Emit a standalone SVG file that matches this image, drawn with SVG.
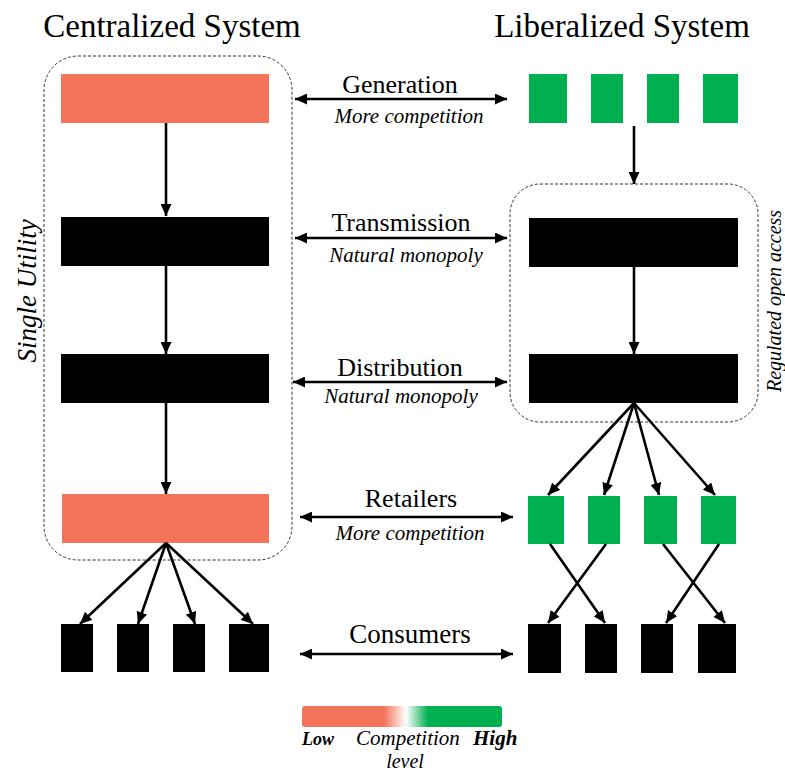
<svg xmlns="http://www.w3.org/2000/svg" width="785" height="782" viewBox="0 0 785 782">
  <defs>
    <marker id="arrow" markerUnits="userSpaceOnUse" markerWidth="13" markerHeight="11" refX="12" refY="5.5" orient="auto-start-reverse" viewBox="0 0 13 11">
      <path d="M0,0 L12,5.5 L0,11 z" fill="#000"/>
    </marker>
    <linearGradient id="scale" x1="0" y1="0" x2="1" y2="0">
      <stop offset="0" stop-color="#F3735B"/>
      <stop offset="0.41" stop-color="#F3735B"/>
      <stop offset="0.52" stop-color="#FFFFFF"/>
      <stop offset="0.63" stop-color="#00B050"/>
      <stop offset="1" stop-color="#00B050"/>
    </linearGradient>
  </defs>

  <rect width="785" height="782" fill="#fff"/>

  <!-- column headings -->
  <text font-family="Liberation Serif" font-size="33" x="172" y="37" text-anchor="middle">Centralized System</text>
  <text font-family="Liberation Serif" font-size="33" x="622" y="37" text-anchor="middle">Liberalized System</text>

  <!-- dashed groupings -->
  <g id="single-utility">
    <rect x="44" y="56" width="248" height="504" rx="34" ry="34" fill="none" stroke="#333" stroke-width="1" stroke-dasharray="3 2"/>
    <text font-family="Liberation Serif" font-style="italic" font-size="27" transform="translate(36,291) rotate(-90)" text-anchor="middle">Single Utility</text>
  </g>
  <g id="regulated-open-access">
    <rect x="510" y="184" width="248" height="238" rx="30" ry="30" fill="none" stroke="#333" stroke-width="1" stroke-dasharray="3 2"/>
    <text font-family="Liberation Serif" font-style="italic" font-size="20" transform="translate(781,301) rotate(-90)" text-anchor="middle">Regulated open access</text>
  </g>

  <!-- centralized column -->
  <g id="c-generation" fill="#F3735B"><rect x="61" y="74" width="208" height="49"/></g>
  <g id="c-transmission" fill="#000"><rect x="61" y="217" width="208" height="49"/></g>
  <g id="c-distribution" fill="#000"><rect x="61" y="354" width="208" height="49"/></g>
  <g id="c-retailer" fill="#F3735B"><rect x="62" y="494" width="207" height="49"/></g>
  <g id="c-consumers" fill="#000">
    <rect x="61" y="624" width="32" height="48"/>
    <rect x="117" y="624" width="32" height="48"/>
    <rect x="173" y="624" width="32" height="48"/>
    <rect x="229" y="624" width="40" height="48"/>
  </g>

  <!-- liberalized column -->
  <g id="l-generation" fill="#00B050">
    <rect x="529" y="74" width="38" height="49"/>
    <rect x="591" y="74" width="32" height="49"/>
    <rect x="647" y="74" width="32" height="49"/>
    <rect x="703" y="74" width="35" height="49"/>
  </g>
  <g id="l-transmission" fill="#000"><rect x="529" y="218" width="209" height="49"/></g>
  <g id="l-distribution" fill="#000"><rect x="529" y="354" width="209" height="49"/></g>
  <g id="l-retailers" fill="#00B050">
    <rect x="528" y="496" width="36" height="48"/>
    <rect x="588" y="496" width="32" height="48"/>
    <rect x="644" y="496" width="33" height="48"/>
    <rect x="701" y="496" width="35" height="48"/>
  </g>
  <g id="l-consumers" fill="#000">
    <rect x="528" y="624" width="33" height="49"/>
    <rect x="585" y="624" width="32" height="49"/>
    <rect x="641" y="624" width="32" height="49"/>
    <rect x="698" y="624" width="38" height="49"/>
  </g>

  <!-- stage labels -->
  <g id="stage-generation">
    <text font-family="Liberation Serif" font-size="26" x="400" y="93" text-anchor="middle">Generation</text>
    <text font-family="Liberation Serif" font-style="italic" font-size="21" x="409" y="123" text-anchor="middle">More competition</text>
  </g>
  <g id="stage-transmission">
    <text font-family="Liberation Serif" font-size="26" x="401" y="231" text-anchor="middle">Transmission</text>
    <text font-family="Liberation Serif" font-style="italic" font-size="21" x="406" y="262" text-anchor="middle">Natural monopoly</text>
  </g>
  <g id="stage-distribution">
    <text font-family="Liberation Serif" font-size="26" x="400" y="376" text-anchor="middle">Distribution</text>
    <text font-family="Liberation Serif" font-style="italic" font-size="21" x="401" y="403" text-anchor="middle">Natural monopoly</text>
  </g>
  <g id="stage-retailers">
    <text font-family="Liberation Serif" font-size="26" x="411" y="507" text-anchor="middle">Retailers</text>
    <text font-family="Liberation Serif" font-style="italic" font-size="21" x="410" y="540" text-anchor="middle">More competition</text>
  </g>
  <g id="stage-consumers">
    <text font-family="Liberation Serif" font-size="27" x="410" y="643" text-anchor="middle">Consumers</text>
  </g>

  <!-- connectors -->
  <g id="connectors" stroke="#000" stroke-width="2.6" marker-end="url(#arrow)">
    <!-- stage correspondences -->
    <line marker-start="url(#arrow)" x1="295" y1="99" x2="507" y2="99"/>
    <line marker-start="url(#arrow)" x1="295" y1="238" x2="507" y2="238"/>
    <line marker-start="url(#arrow)" x1="293" y1="382" x2="507" y2="382"/>
    <line marker-start="url(#arrow)" x1="300" y1="517" x2="513" y2="517"/>
    <line marker-start="url(#arrow)" x1="300" y1="654" x2="513" y2="654"/>

    <!-- centralized flow -->
    <line x1="166" y1="123" x2="166" y2="216"/>
    <line x1="166" y1="266" x2="166" y2="354"/>
    <line x1="166" y1="403" x2="166" y2="494"/>
    <line x1="166" y1="543" x2="80" y2="624"/>
    <line x1="166" y1="543" x2="138" y2="624"/>
    <line x1="166" y1="543" x2="195" y2="624"/>
    <line x1="166" y1="543" x2="253" y2="624"/>

    <!-- liberalized flow -->
    <line x1="634" y1="126" x2="634" y2="184"/>
    <line x1="634" y1="267" x2="634" y2="354"/>
    <line x1="634" y1="403" x2="548" y2="495"/>
    <line x1="634" y1="403" x2="604" y2="495"/>
    <line x1="634" y1="403" x2="659" y2="495"/>
    <line x1="634" y1="403" x2="715" y2="495"/>
    <line x1="550" y1="544" x2="605" y2="623"/>
    <line x1="606" y1="544" x2="548" y2="623"/>
    <line x1="663" y1="544" x2="725" y2="623"/>
    <line x1="719" y1="544" x2="666" y2="623"/>
  </g>

  <!-- competition scale -->
  <g id="legend">
    <rect x="302" y="706" width="200" height="21" rx="3" ry="3" fill="url(#scale)"/>
    <text font-family="Liberation Serif" font-size="18" font-weight="bold" font-style="italic" x="302" y="745">Low</text>
    <text font-family="Liberation Serif" font-size="21" font-style="italic" x="356" y="745">Competition</text>
    <text font-family="Liberation Serif" font-size="21" font-weight="bold" font-style="italic" x="473" y="745">High</text>
    <text font-family="Liberation Serif" font-size="20" font-style="italic" x="405" y="768" text-anchor="middle">level</text>
  </g>
</svg>
